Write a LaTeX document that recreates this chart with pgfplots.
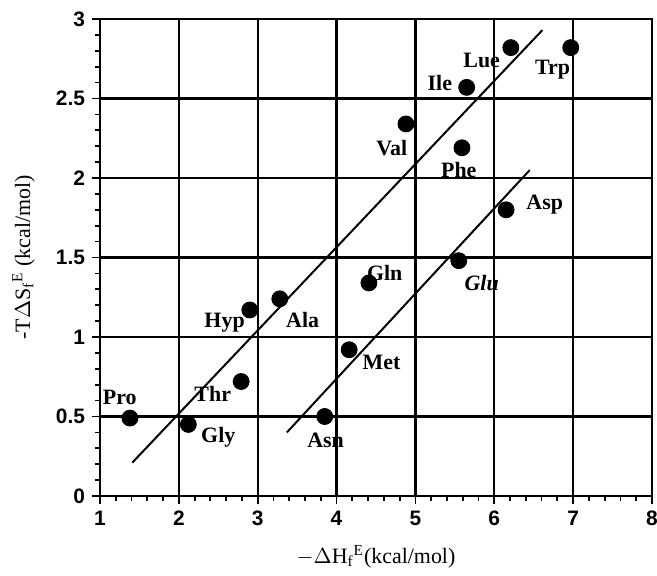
\documentclass[border=0pt]{standalone}
\usepackage{pgfplots}
\pgfplotsset{compat=1.18}
\usepackage{fontspec}
\setmainfont{Liberation Serif}
\setsansfont{Liberation Sans}
\begin{document}
\begin{tikzpicture}
\path[use as bounding box] (-50bp,-40bp) rectangle (278.5bp,248bp);
\begin{axis}[
  at={(0,0)}, anchor=south west,
  scale only axis, width=276bp, height=238.5bp,
  xmin=1, xmax=8, ymin=0, ymax=3,
  xtick={1,...,8}, ytick={0,0.5,...,3},
  minor x tick num=4, minor y tick num=4,
  tick align=outside, tick pos=left,
  major tick length=4bp, minor tick length=2.5bp,
  every tick/.style={black, line width=0.9pt},
  grid=major, major grid style={black, line width=1.1pt},
  axis line style={line width=1.1pt},
  /pgf/number format/assume math mode=true,
  ticklabel style={font=\sffamily\bfseries\fontsize{10.5}{12}\selectfont},
  yticklabel style={/pgf/number format/fixed},
  xlabel={$-\Delta$H\raisebox{0pt}[0pt][0pt]{$_{\mathrm{f}}{}^{\mathrm{E}}$}(kcal/mol)},
  ylabel={-T$\Delta$S\raisebox{0pt}[0pt][0pt]{$_{\mathrm{f}}{}^{\mathrm{E}}$} (kcal/mol)},
  label style={font=\fontsize{11}{13}\selectfont},
  xlabel style={at={(axis description cs:0.5,-0.13)}, anchor=center},
  ylabel style={at={(axis description cs:-0.136,0.5)}, anchor=center},
  clip=false,
]
\addplot[black, line width=1pt] coordinates {(1.41,0.21) (6.61,2.93)};
\addplot[black, line width=1pt] coordinates {(3.37,0.40) (6.45,2.05)};
\addplot[only marks, mark=*, mark size=4bp, black] coordinates {
(1.38,0.49) (2.12,0.45) (2.79,0.72) (2.90,1.17) (3.28,1.24)
(3.85,0.50) (4.16,0.92) (4.41,1.34) (4.88,2.34) (5.65,2.57)
(6.21,2.82) (6.97,2.82) (5.59,2.19) (6.15,1.80) (5.55,1.48)};
\begin{scope}[every node/.style={font=\bfseries\fontsize{11}{13}\selectfont, inner sep=0pt}]
\node at (axis cs:1.25,0.62) {Pro};
\node at (axis cs:2.50,0.37) {Gly};
\node at (axis cs:2.43,0.64) {Thr};
\node at (axis cs:2.58,1.09) {Hyp};
\node at (axis cs:3.57,1.11) {Ala};
\node at (axis cs:3.86,0.35) {Asn};
\node at (axis cs:4.57,0.84) {Met};
\node at (axis cs:4.61,1.40) {Gln};
\node at (axis cs:5.84,1.34) {\itshape Glu};
\node at (axis cs:4.70,2.19) {Val};
\node at (axis cs:5.31,2.60) {Ile};
\node at (axis cs:5.84,2.74) {Lue};
\node at (axis cs:6.74,2.68) {Trp};
\node at (axis cs:5.55,2.05) {Phe};
\node at (axis cs:6.64,1.83) {Asp};
\end{scope}
\end{axis}
\end{tikzpicture}
\end{document}
